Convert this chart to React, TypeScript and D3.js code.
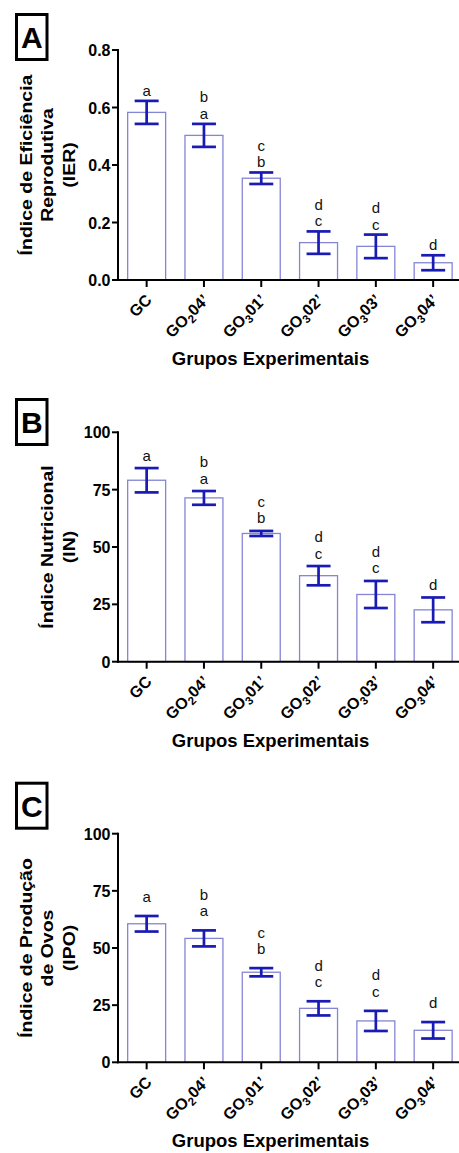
import React from "react";
import * as d3 from "d3";

// Experimental groups (label parts: base, subscript, suffix)
const groupBase = ["GC", "GO", "GO", "GO", "GO", "GO"];
const groupSub = ["", "2", "3", "3", "3", "3"];
const groupSuffix = ["", "04’", "01’", "02’", "03’", "04’"];
const groupKeys = ["GC", "GO2-04", "GO3-01", "GO3-02", "GO3-03", "GO3-04"];

// Índice de Eficiência Reprodutiva (IER)
const ierMean = [0.583, 0.503, 0.354, 0.13, 0.117, 0.06];
const ierErr = [0.04, 0.04, 0.02, 0.039, 0.041, 0.026];
const ierTicks = [0, 0.2, 0.4, 0.6, 0.8];

// Índice Nutricional (IN)
const inMean = [79.1, 71.4, 55.9, 37.5, 29.3, 22.6];
const inErr = [5.3, 3.0, 1.1, 4.2, 5.9, 5.4];
const inTicks = [0, 25, 50, 75, 100];

// Índice de Produção de Ovos (IPO)
const ipoMean = [60.6, 54.2, 39.4, 23.6, 18.1, 14.0];
const ipoErr = [3.4, 3.5, 1.8, 3.1, 4.4, 3.6];
const ipoTicks = [0, 25, 50, 75, 100];

// Significance letters, top line first
const sigLetters = [["a"], ["b", "a"], ["c", "b"], ["d", "c"], ["d", "c"], ["d"]];

const xTitle = "Grupos Experimentais";
const FONT = "'Liberation Sans', Arial, Helvetica, sans-serif";
const BAR_STROKE = "#8585d6";
const ERR_COLOR = "#1a1ab4";

type PanelProps = {
  tag: string;
  top: number;
  bottom: number;
  boxTop: number;
  yMax: number;
  ticks: number[];
  fmt: (v: number) => string;
  mean: number[];
  err: number[];
  title: string[];
  letterGap: number;
};

const x = d3
  .scaleBand<string>()
  .domain(groupKeys)
  .range([118, 461.8])
  .paddingInner(0.32)
  .paddingOuter(0.16);

function Panel(p: PanelProps) {
  const y = d3.scaleLinear().domain([0, p.yMax]).range([p.bottom, p.top]);
  const bw = x.bandwidth();
  const capW = 24;
  const midY = (p.top + p.bottom) / 2;
  const lineGap = 27;
  const nT = p.title.length;
  return (
    <g>
      {/* panel tag box */}
      <rect x={16.5} y={p.boxTop + 1.5} width={30.5} height={45} fill="none" stroke="#000" strokeWidth={3} />
      <text x={31.8} y={p.boxTop + 35} textAnchor="middle" fontFamily={FONT} fontWeight="bold" fontSize={30}>
        {p.tag}
      </text>

      {/* y title */}
      <g transform={`translate(75,${midY}) rotate(-90) scale(1,0.8)`}>
        {p.title.map((t, i) => (
          <text
            key={i}
            x={0}
            y={-(nT - 1 - i) * lineGap}
            textAnchor="middle"
            fontFamily={FONT}
            fontWeight="bold"
            fontSize={19.5}
          >
            {t}
          </text>
        ))}
      </g>

      {/* bars */}
      {groupKeys.map((k, i) => (
        <rect
          key={k}
          x={x(k)! + 0.5}
          y={y(p.mean[i])}
          width={bw - 1}
          height={p.bottom - y(p.mean[i])}
          fill="#fff"
          stroke={BAR_STROKE}
          strokeWidth={1.3}
        />
      ))}

      {/* error bars */}
      {groupKeys.map((k, i) => {
        const cx = x(k)! + bw / 2;
        const hi = y(p.mean[i] + p.err[i]);
        const lo = y(p.mean[i] - p.err[i]);
        return (
          <g key={k} stroke={ERR_COLOR} strokeWidth={2.7}>
            <line x1={cx} x2={cx} y1={hi} y2={lo} />
            <line x1={cx - capW / 2} x2={cx + capW / 2} y1={hi} y2={hi} />
            <line x1={cx - capW / 2} x2={cx + capW / 2} y1={lo} y2={lo} />
          </g>
        );
      })}

      {/* significance letters */}
      {groupKeys.map((k, i) => {
        const cx = x(k)! + bw / 2;
        const hi = y(p.mean[i] + p.err[i]);
        const lines = sigLetters[i];
        return lines.map((l, j) => (
          <text
            key={k + j}
            x={cx}
            y={hi - p.letterGap - (lines.length - 1 - j) * 16.5 + 5}
            textAnchor="middle"
            fontFamily={FONT}
            fontSize={15}
            fill="#111"
          >
            {l}
          </text>
        ));
      })}

      {/* y axis */}
      <line x1={118} x2={118} y1={p.top - 1} y2={p.bottom + 1} stroke="#000" strokeWidth={2} />
      {p.ticks.map((t) => (
        <g key={t}>
          <line x1={112} x2={118} y1={y(t)} y2={y(t)} stroke="#000" strokeWidth={2} />
          <text
            x={110.5}
            y={y(t) + 6}
            textAnchor="end"
            fontFamily={FONT}
            fontWeight="bold"
            fontSize={16}
          >
            {p.fmt(t)}
          </text>
        </g>
      ))}

      {/* x axis */}
      <line x1={117} x2={462} y1={p.bottom} y2={p.bottom} stroke="#000" strokeWidth={2} />
      {groupKeys.map((k, i) => {
        const cx = x(k)! + bw / 2;
        return (
          <g key={k}>
            <line x1={cx} x2={cx} y1={p.bottom} y2={p.bottom + 7} stroke="#000" strokeWidth={2} />
            <text
              transform={`translate(${cx + 6},${p.bottom + 21}) rotate(-45)`}
              textAnchor="end"
              fontFamily={FONT}
              fontWeight="bold"
              fontSize={16}
            >
              {groupBase[i]}
              {groupSub[i] && (
                <tspan fontSize={11.5} dy={4}>
                  {groupSub[i]}
                </tspan>
              )}
              {groupSuffix[i] && <tspan dy={groupSub[i] ? -4 : 0}>{groupSuffix[i]}</tspan>}
            </text>
          </g>
        );
      })}

      {/* x title */}
      <text
        x={270.5}
        y={p.bottom + 85}
        textAnchor="middle"
        fontFamily={FONT}
        fontWeight="bold"
        fontSize={18.5}
      >
        {xTitle}
      </text>
    </g>
  );
}

const fmtDec = d3.format(".1f");
const fmtInt = d3.format("d");

export default function App() {
  return (
    <svg
      width={459}
      height={1153}
      style={{ position: "absolute", left: 0, top: 0, background: "#fff" }}
    >
      <rect width={459} height={1153} fill="#fff" />
      <Panel
        tag="A"
        top={50}
        bottom={280}
        boxTop={13}
        yMax={0.8}
        ticks={ierTicks}
        fmt={fmtDec}
        mean={ierMean}
        err={ierErr}
        title={["Índice de Eficiência", "Reprodutiva", "(IER)"]}
        letterGap={10}
      />
      <Panel
        tag="B"
        top={432.3}
        bottom={661.7}
        boxTop={398}
        yMax={100}
        ticks={inTicks}
        fmt={fmtInt}
        mean={inMean}
        err={inErr}
        title={["Índice Nutricional", "(IN)"]}
        letterGap={12.5}
      />
      <Panel
        tag="C"
        top={833.7}
        bottom={1062.3}
        boxTop={781.7}
        yMax={100}
        ticks={ipoTicks}
        fmt={fmtInt}
        mean={ipoMean}
        err={ipoErr}
        title={["Índice de Produção", "de Ovos", "(IPO)"]}
        letterGap={19}
      />
    </svg>
  );
}
